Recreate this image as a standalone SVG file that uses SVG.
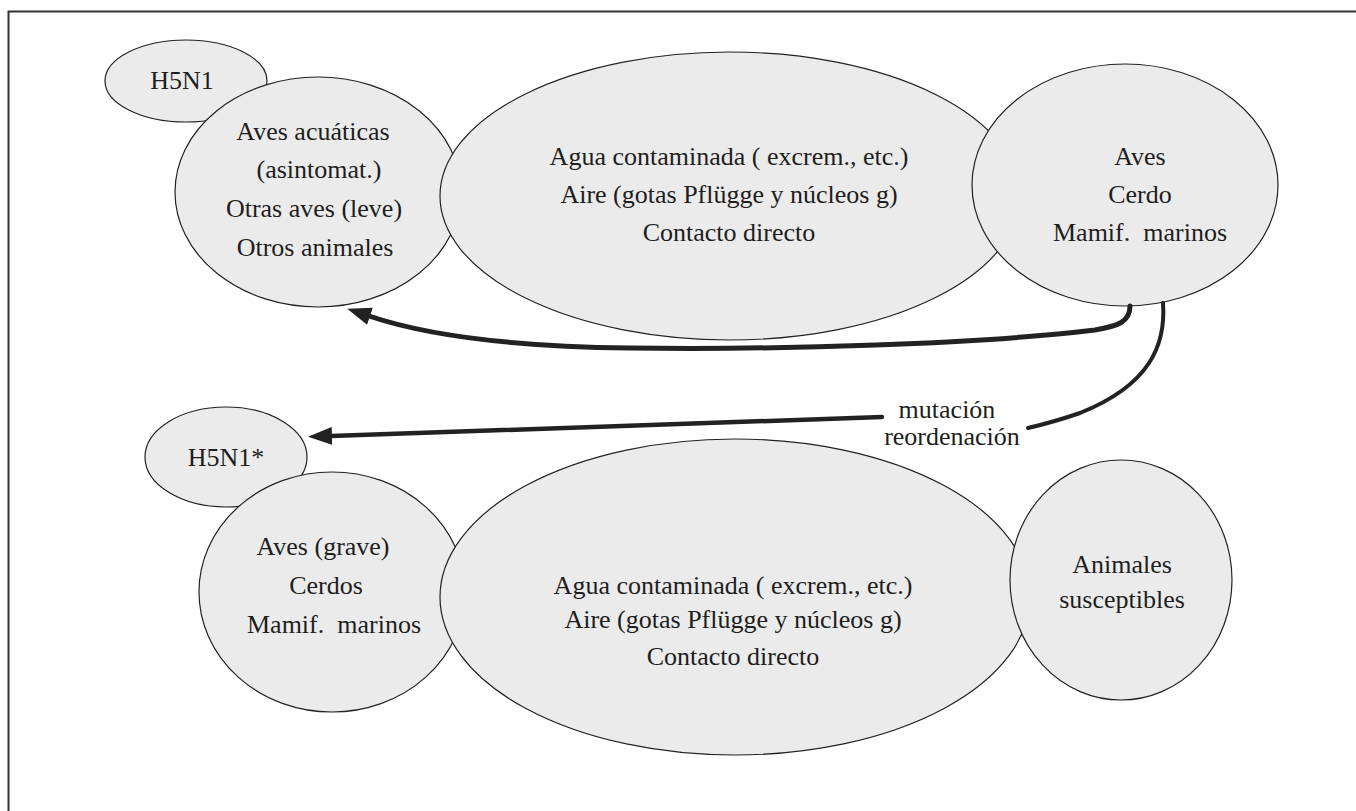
<svg xmlns="http://www.w3.org/2000/svg" width="1356" height="811" viewBox="0 0 1356 811">
  <style>
    .blob { fill: #ebebeb; stroke: #222; stroke-width: 1.2; }
    .lbl { font-family: "Liberation Serif", "Times New Roman", serif; font-size: 26px; fill: #1e1e1e; text-anchor: middle; }
    .wire { fill: none; stroke: #222; stroke-linecap: round; }
  </style>
  <defs>
    <marker id="head" viewBox="0 0 24 18" refX="1" refY="9" markerWidth="24" markerHeight="18" markerUnits="userSpaceOnUse" orient="auto">
      <path d="M0,0 L24,9 L0,18 Z" fill="#222"/>
    </marker>
  </defs>
  <rect width="1356" height="811" fill="#fff"/>
  <!-- outer frame, running off the right and bottom edges -->
  <path d="M8.5,820 V11.5 H1370" fill="none" stroke="#333" stroke-width="2"/>

  <!-- upper cycle -->
  <g id="h5n1">
    <ellipse class="blob" cx="186" cy="81" rx="81" ry="41"/>
    <text class="lbl" x="182" y="89">H5N1</text>
  </g>
  <g id="reservorio">
    <ellipse class="blob" cx="318" cy="192" rx="143" ry="115"/>
    <text class="lbl" x="313" y="140">Aves acuáticas</text>
    <text class="lbl" x="319" y="178">(asintomat.)</text>
    <text class="lbl" x="314" y="217">Otras aves (leve)</text>
    <text class="lbl" x="315" y="256">Otros animales</text>
  </g>
  <g id="transmision1">
    <ellipse class="blob" cx="730" cy="196" rx="290" ry="144"/>
    <text class="lbl" x="729" y="165">Agua contaminada ( excrem., etc.)</text>
    <text class="lbl" x="729" y="203">Aire (gotas Pflügge y núcleos g)</text>
    <text class="lbl" x="729" y="241">Contacto directo</text>
  </g>
  <g id="huespedes1">
    <ellipse class="blob" cx="1125" cy="185" rx="153" ry="121"/>
    <text class="lbl" x="1140" y="165">Aves</text>
    <text class="lbl" x="1140" y="203">Cerdo</text>
    <text class="lbl" x="1140" y="241">Mamif.&#160; marinos</text>
  </g>

  <!-- lower cycle -->
  <g id="h5n1-mutado">
    <ellipse class="blob" cx="226" cy="457" rx="81" ry="50"/>
    <text class="lbl" x="226" y="466">H5N1*</text>
  </g>
  <g id="afectados">
    <ellipse class="blob" cx="332" cy="592" rx="133" ry="120"/>
    <text class="lbl" x="323" y="555">Aves (grave)</text>
    <text class="lbl" x="326" y="594">Cerdos</text>
    <text class="lbl" x="334" y="633">Mamif.&#160; marinos</text>
  </g>
  <g id="transmision2">
    <ellipse class="blob" cx="735" cy="597" rx="295" ry="158"/>
    <text class="lbl" x="733" y="594">Agua contaminada ( excrem., etc.)</text>
    <text class="lbl" x="733" y="628">Aire (gotas Pflügge y núcleos g)</text>
    <text class="lbl" x="733" y="665">Contacto directo</text>
  </g>
  <g id="susceptibles">
    <ellipse class="blob" cx="1121" cy="580" rx="111" ry="120"/>
    <text class="lbl" x="1122" y="573">Animales</text>
    <text class="lbl" x="1122" y="608">susceptibles</text>
  </g>

  <!-- connectors -->
  <g id="connectors">
    <path class="wire" stroke-width="5" marker-end="url(#head)" d="M1130,306 C1130,322 1118,326 1095,330 C980,344 780,350 630,348 C540,347 440,340 369,316"/>
    <path class="wire" stroke-width="4" d="M1163,303 C1166,345 1150,385 1080,413 C1060,420 1045,424 1028,428"/>
    <path class="wire" stroke-width="4.5" marker-end="url(#head)" d="M882,417 L331,436"/>
    <text class="lbl" x="947" y="418">mutación</text>
    <text class="lbl" x="952" y="445">reordenación</text>
  </g>
</svg>
